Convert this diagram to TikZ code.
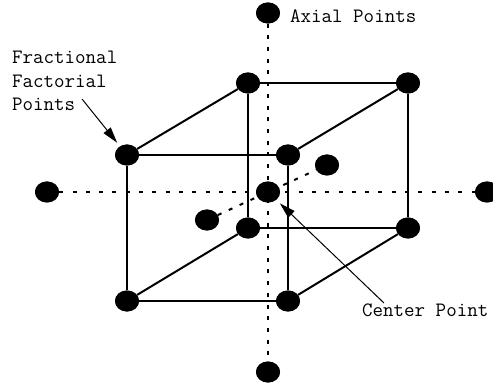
\documentclass[tikz,border=0pt]{standalone}
\usepackage{fontspec}
\usetikzlibrary{arrows.meta,shapes.geometric}
\begin{document}
\begin{tikzpicture}[x=1pt,y=-1pt,
  dot/.style={ellipse,fill=black,inner sep=0pt,minimum width=24pt,minimum height=21pt},
  edge/.style={line width=2pt},
  axis/.style={line width=2pt,dash pattern=on 4pt off 9.3pt},
  vaxis/.style={line width=2pt,dash pattern=on 4pt off 7.7pt},
  daxis/.style={line width=2pt,dash pattern=on 4pt off 8pt},
  lbl/.style={font=\ttfamily\fontsize{20.4}{23}\selectfont,inner sep=0pt,anchor=base west},
  pointer/.style={line width=1pt,-{Triangle[length=16pt,width=9pt]}}
]
\useasboundingbox (0,0) rectangle (493,385);
\clip (0,0) rectangle (493,385);
% points
\node[dot] (ftl) at (127,155) {};
\node[dot] (ftr) at (288,155) {};
\node[dot] (fbl) at (127,301) {};
\node[dot] (fbr) at (288,301) {};
\node[dot] (btl) at (248,83) {};
\node[dot] (btr) at (408,83) {};
\node[dot] (bbl) at (248,228) {};
\node[dot] (bbr) at (408,228) {};
\node[dot] (c) at (268,192) {};
\node[dot] (ax1) at (268,13) {};
\node[dot] (ax2) at (268,372) {};
\node[dot] (ax3) at (47,192) {};
\node[dot] (ax4) at (487,192) {};
\node[dot] (ax5) at (327,165) {};
\node[dot] (ax6) at (207,220) {};
% axes
\draw[axis] (ax3) -- (ax4);
\draw[vaxis] (ax1) -- (ax2);
\draw[daxis] (ax6) -- (ax5);
% cube
\draw[edge] (ftl) -- (ftr) -- (fbr) -- (fbl) -- (ftl);
\draw[edge] (btl) -- (btr) -- (bbr) -- (bbl) -- (btl);
\draw[edge] (ftl) -- (btl);
\draw[edge] (ftr) -- (btr);
\draw[edge] (fbl) -- (bbl);
\draw[edge] (fbr) -- (bbr);
% redraw dots on top
\foreach \n in {ftl,ftr,fbl,fbr,btl,btr,bbl,bbr,c,ax1,ax2,ax3,ax4,ax5,ax6}
  \fill (\n.center) ellipse [x radius=12pt,y radius=10.5pt];
% labels
\node[lbl] (axl) at (290,23) {Axial Points};
\node[lbl] (fr1) at (12,64) {Fractional};
\node[lbl] (fr2) at (12,88) {Factorial};
\node[lbl] (fr3) at (12,111) {Points};
\node[lbl] (cpl) at (362,316) {Center Point};
\coordinate (fa) at (82,99);
\coordinate (ca) at (384,303);
\draw[pointer,shorten >=4.5pt] (fa) -- (ftl);
\draw[pointer,shorten >=5pt] (ca) -- (c);
\end{tikzpicture}
\end{document}
